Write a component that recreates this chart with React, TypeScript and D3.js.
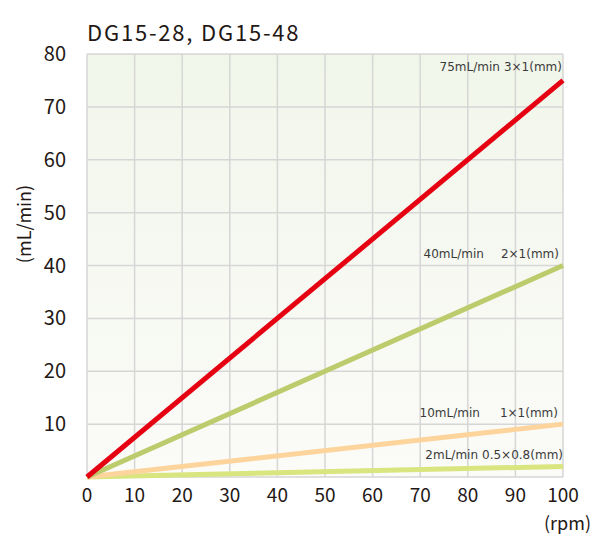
import React from "react";
import * as d3 from "d3";

const xTicks = [0, 10, 20, 30, 40, 50, 60, 70, 80, 90, 100];
const yTicks = [10, 20, 30, 40, 50, 60, 70, 80];
const rpm = [0, 100];
const seriesFlow = ["75mL/min", "40mL/min", "10mL/min", "2mL/min"];
const seriesSize = ["3×1(mm)", "2×1(mm)", "1×1(mm)", "0.5×0.8(mm)"];
const seriesMax = [75, 40, 10, 2];
const seriesColors = ["#e50012", "#bccb6c", "#fdd49c", "#d9e57f"];

const W = 593, H = 538;
const m = { l: 87, r: 563, t: 54, b: 477 };
const font = "'Noto Sans CJK JP', 'Noto Sans', sans-serif";
const labelFont = "'DejaVu Sans', Verdana, sans-serif";

export default function App() {
  const x = d3.scaleLinear().domain([0, 100]).range([m.l, m.r]);
  const y = d3.scaleLinear().domain([0, 80]).range([m.b, m.t]);
  const line = d3.line<[number, number]>().x(d => x(d[0])).y(d => y(d[1]));
  const labelStyle = [
    { dx: -1, dy: -9, gap: 4 },
    { dx: -4, dy: -8, gap: 17 },
    { dx: -5, dy: -7, gap: 20 },
    { dx: 0, dy: -7, gap: 4 },
  ];
  const order = [3, 2, 1, 0];
  return (
    <svg width={W} height={H} style={{ position: "absolute", left: 0, top: 0 }}>
      <defs>
        <linearGradient id="bg" x1="0" y1="0" x2="0" y2="1">
          <stop offset="0" stopColor="#f1f6ea" />
          <stop offset="1" stopColor="#fbfbf8" />
        </linearGradient>
      </defs>
      <rect width={W} height={H} fill="#fff" />
      <text x={87} y={41} fontSize={22} letterSpacing={1.8} fontFamily={font} fill="#231815">DG15-28, DG15-48</text>
      <rect x={m.l} y={m.t} width={m.r - m.l} height={m.b - m.t} fill="url(#bg)" />
      {xTicks.map(t => (
        <line key={"gx" + t} x1={x(t)} x2={x(t)} y1={m.t} y2={m.b} stroke="#d6d6d6" strokeWidth={1.5} />
      ))}
      {[0, ...yTicks].map(t => (
        <line key={"gy" + t} x1={m.l} x2={m.r} y1={y(t)} y2={y(t)} stroke="#d6d6d6" strokeWidth={1.5} />
      ))}
      {yTicks.map(t => (
        <text key={"yt" + t} x={66} y={y(t) + 7} fontSize={20} textAnchor="end" fontFamily={font} fill="#231815">{t}</text>
      ))}
      {xTicks.map(t => (
        <text key={"xt" + t} x={x(t)} y={502} fontSize={19} textAnchor="middle" fontFamily={font} fill="#231815">{t}</text>
      ))}
      <text x={591} y={530} fontSize={18} textAnchor="end" fontFamily={font} fill="#231815">(rpm)</text>
      <text transform={`translate(31,224) rotate(-90)`} fontSize={18} textAnchor="middle" fontFamily={font} fill="#231815">(mL/min)</text>
      {order.map(i => (
        <path key={"s" + i} d={line(rpm.map(r => [r, (seriesMax[i] * r) / 100]) as [number, number][]) || ""} stroke={seriesColors[i]} strokeWidth={5} fill="none" />
      ))}
      {seriesFlow.map((n, i) => (
        <text key={"l" + i} x={x(100) + labelStyle[i].dx} y={y(seriesMax[i]) + labelStyle[i].dy} fontSize={12} textAnchor="end" fontFamily={labelFont} fill="#3a3a3a">
          <tspan>{n}</tspan>
          <tspan dx={labelStyle[i].gap}>{seriesSize[i]}</tspan>
        </text>
      ))}
    </svg>
  );
}
